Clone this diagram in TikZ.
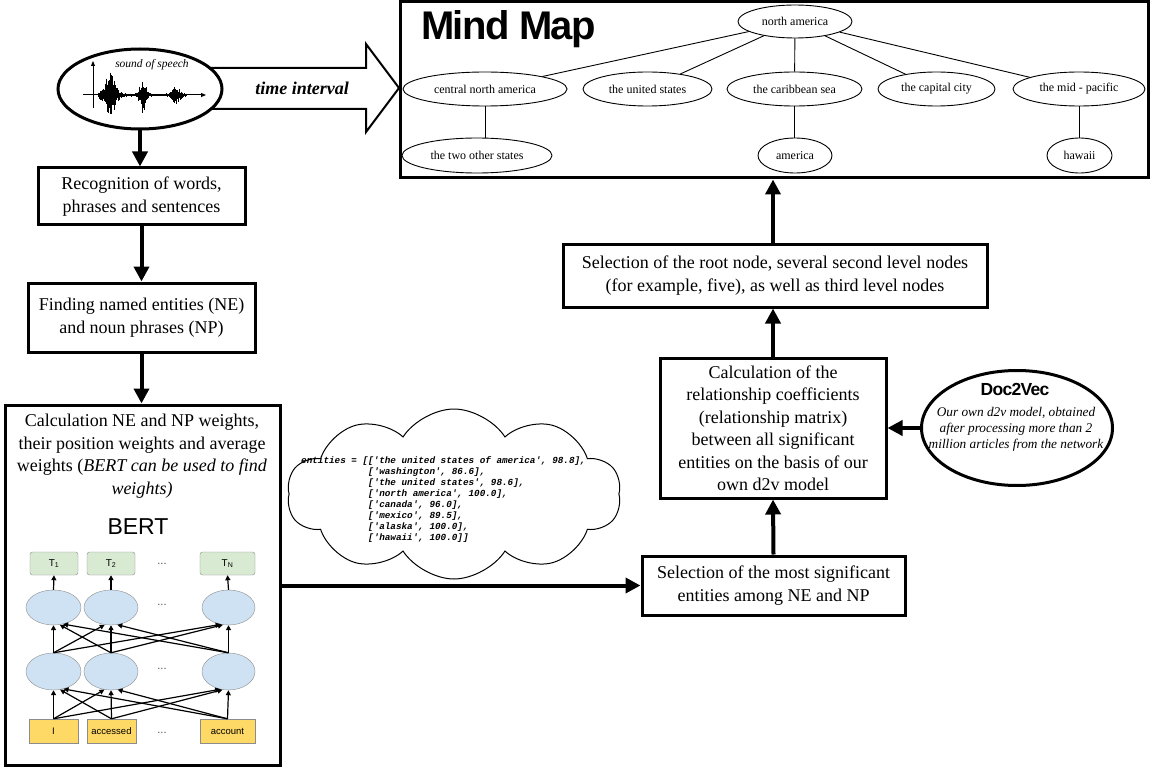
\documentclass[tikz,border=0pt]{standalone}
\usepackage{fontspec}
\setmainfont{Liberation Serif}
\setsansfont{Liberation Sans}
\setmonofont{Liberation Mono}
\newfontfamily\tightsans[LetterSpace=-4]{Liberation Sans}
\usetikzlibrary{arrows.meta,shapes.geometric,shapes.symbols}
\definecolor{tgreen}{HTML}{D9EAD3}
\definecolor{hblue}{HTML}{CFE2F3}
\definecolor{iyellow}{HTML}{FFD966}
\definecolor{bgrey}{HTML}{8C8C8C}
\begin{document}
\begin{tikzpicture}[x=1pt,y=-1pt,
  flowbox/.style={draw, line width=3pt, rectangle, align=center, inner sep=0pt, font=\fontsize{18}{22.5}\selectfont},
  flowarrow/.style={line width=4pt, -{Triangle[length=15pt,width=15pt]}},
  mmnode/.style={draw, ellipse, line width=0.9pt, inner sep=0pt, font=\fontsize{12}{14}\selectfont},
  mmedge/.style={line width=0.9pt},
  tbox/.style={draw=bgrey, fill=tgreen, rounded corners=2.5pt, minimum height=23pt, inner sep=0pt, font=\sffamily\fontsize{10}{12}\selectfont},
  hnode/.style={draw=bgrey, fill=hblue, ellipse, inner sep=0pt},
  ibox/.style={draw=bgrey, fill=iyellow, minimum height=24pt, inner sep=0pt, font=\sffamily\fontsize{9.5}{11}\selectfont},
  barrow/.style={line width=1.2pt, -{Triangle[length=5pt,width=5pt]}},
  dotsnode/.style={font=\sffamily\fontsize{11}{12}\selectfont, text=black!70, inner sep=0pt},
]
\useasboundingbox (0,0) rectangle (1151,770);
\fill[white] (0,0) rectangle (1151,770);

% big outlined arrow
\draw[line width=2pt, fill=white, line join=miter] (205,68) -- (366,68) -- (366,44) -- (399,88) -- (366,132) -- (366,109) -- (205,109) -- cycle;
\node[font=\bfseries\itshape\fontsize{18}{22}\selectfont] (ti) at (302,88) {time interval};

% sound ellipse
\node[draw, ellipse, line width=3pt, fill=white, minimum width=164pt, minimum height=80pt] (sound) at (140,89) {};
\node[font=\itshape\fontsize{11.5}{13}\selectfont, inner sep=0pt] (sos) at (152,65) {sound of speech};
\pgfmathsetseed{7}
\foreach \i in {0,...,110} {
  \pgfmathsetmacro{\xx}{98+0.8*\i}
  \pgfmathsetmacro{\env}{21*exp(max(-9,-((\xx-110)/7)^2))+17*exp(max(-9,-((\xx-143)/4)^2))+8*exp(max(-9,-((\xx-176)/5)^2))+1.5}
  \pgfmathsetmacro{\aa}{\env*(0.35+0.65*rnd)}
  \pgfmathsetmacro{\bb}{\env*(0.35+0.65*rnd)}
  \draw[line width=0.7pt] (\xx,95-\aa) -- (\xx,95+\bb);
}
\draw[line width=1pt,-{Triangle[length=5pt,width=4pt]}] (93,108) -- (93,61);
\draw[line width=1pt,-{Triangle[length=5pt,width=4pt]}] (83,95) -- (206,95);

% mind map
\node[draw, line width=3pt, minimum width=748pt, minimum height=176pt, inner sep=0pt] (mm) at (774,90) {};
\node[font=\tightsans\bfseries\fontsize{40}{42}\selectfont, anchor=base west, inner sep=0pt] (mmtitle) at (421,40) {Mind Map};
\node[mmnode, minimum width=114pt, minimum height=33pt] (na) at (795,21.5) {north america};
\node[mmnode, minimum width=164pt, minimum height=34pt] (cna) at (485,89) {central north america};
\node[mmnode, minimum width=129pt, minimum height=34pt] (tus) at (647.5,89) {the united states};
\node[mmnode, minimum width=135pt, minimum height=34pt] (tcs) at (794.5,89) {the caribbean sea};
\node[mmnode, minimum width=117pt, minimum height=34pt] (tcc) at (936.5,89) {the capital city};
\node[mmnode, minimum width=132pt, minimum height=34pt] (tmp) at (1079,89) {the mid - pacific};
\node[mmnode, minimum width=150pt, minimum height=35pt] (tos) at (477,155.5) {the two other states};
\node[mmnode, minimum width=74pt, minimum height=35pt] (am) at (795,155.5) {america};
\node[mmnode, minimum width=65pt, minimum height=35pt] (hw) at (1079.5,155.5) {hawaii};
\draw[mmedge] (na) -- (cna);
\draw[mmedge] (na) -- (tus);
\draw[mmedge] (na) -- (tcs);
\draw[mmedge] (na) -- (tcc);
\draw[mmedge] (na) -- (tmp);
\draw[mmedge] (cna.south) -- (cna.south |- tos.north);
\draw[mmedge] (tcs.south) -- (tcs.south |- am.north);
\draw[mmedge] (tmp.south) -- (tmp.south |- hw.north);

% left flow
\node[flowbox, minimum width=207pt, minimum height=57pt] (rec) at (141.5,196.5) {Recognition of words,\\phrases and sentences};
\node[flowbox, minimum width=227pt, minimum height=69pt] (find) at (141.5,317.5) {Finding named entities (NE)\\and noun phrases (NP)};
\node[flowbox, minimum width=275pt, minimum height=360pt] (calc) at (142.5,585) {};
\node[align=center, font=\fontsize{18}{22.5}\selectfont, inner sep=0pt] (calctext) at (142,456) {Calculation NE and NP weights,\\their position weights and average\\weights (\textit{BERT can be used to find}\\\textit{weights)}};
\node[font=\sffamily\fontsize{23}{26}\selectfont, inner sep=0pt] (bert) at (138,527) {BERT};

\draw[flowarrow] (sound.south) -- (sound.south |- rec.north);
\draw[flowarrow] (rec.south) -- (find.north);
\draw[flowarrow] (find.south) -- (find.south |- calc.north);

% BERT diagram
\node[tbox, minimum width=48pt] (t1) at (54,563.5) {T\textsubscript{1}};
\node[tbox, minimum width=48pt] (t2) at (111,563.5) {T\textsubscript{2}};
\node[tbox, minimum width=55pt] (tn) at (227.5,563.5) {T\textsubscript{N}};
\node[hnode, minimum width=55pt, minimum height=35pt] (u1) at (53.5,607.5) {};
\node[hnode, minimum width=54pt, minimum height=35pt] (u2) at (111,607.5) {};
\node[hnode, minimum width=53pt, minimum height=35pt] (un) at (228.5,607.5) {};
\node[hnode, minimum width=55pt, minimum height=37pt] (l1) at (53.5,671.5) {};
\node[hnode, minimum width=54pt, minimum height=37pt] (l2) at (111,671.5) {};
\node[hnode, minimum width=53pt, minimum height=37pt] (ln) at (228.5,671.5) {};
\node[ibox, minimum width=49pt] (i1) at (53.5,731) {I};
\node[ibox, minimum width=49pt] (i2) at (111.5,731) {accessed};
\node[ibox, minimum width=55pt] (in) at (227.5,731) {account};
\node[dotsnode] (d1) at (162,564) {...};
\node[dotsnode] (d2) at (162,605) {...};
\node[dotsnode] (d3) at (162,669) {...};
\node[dotsnode] (d4) at (162,733) {...};
\foreach \s/\t/\a in {i1/l1/270, i2/l1/290, in/l1/300, i1/l2/250, i2/l2/270, in/l2/290, i1/ln/245, i2/ln/252, in/ln/270}
  \draw[barrow] (\s.north) -- (\t.\a);
\foreach \s/\t/\a in {l1/u1/270, l2/u1/290, ln/u1/300, l1/u2/250, l2/u2/270, ln/u2/290, l1/un/245, l2/un/252, ln/un/270}
  \draw[barrow] (\s.north) -- (\t.\a);
\draw[barrow] (u1.north) -- (t1.south);
\draw[barrow] (u2.north) -- (t2.south);
\draw[barrow] (un.north) -- (tn.south);

% cloud
\node[draw, cloud, cloud puffs=10, cloud puff arc=115, cloud ignores aspect, minimum width=334pt, minimum height=170pt, line width=1pt, fill=white] (cloud) at (454,494) {};
\node[anchor=north west, align=left, inner sep=0pt, font=\ttfamily\bfseries\itshape\fontsize{9.3}{11}\selectfont] (code) at (301,456) {entities = [['the united states of america', 98.8],\\
\phantom{entities = [}['washington', 86.6],\\
\phantom{entities = [}['the united states', 98.6],\\
\phantom{entities = [}['north america', 100.0],\\
\phantom{entities = [}['canada', 96.0],\\
\phantom{entities = [}['mexico', 89.5],\\
\phantom{entities = [}['alaska', 100.0],\\
\phantom{entities = [}['hawaii', 100.0]]};

% right flow
\node[flowbox, minimum width=263pt, minimum height=59pt] (sel) at (773.5,585.5) {Selection of the most significant\\entities among NE and NP};
\node[flowbox, minimum width=226pt, minimum height=140pt] (rel) at (773,428) {Calculation of the\\relationship coefficients\\(relationship matrix)\\between all significant\\entities on the basis of our\\own d2v model};
\node[flowbox, minimum width=424pt, minimum height=63pt] (root) at (775,275.5) {Selection of the root node, several second level nodes\\(for example, five), as well as third level nodes};

\node[draw, ellipse, line width=3pt, minimum width=191pt, minimum height=115pt, inner sep=0pt] (doc) at (1017,428) {};
\node[font=\tightsans\bfseries\fontsize{17.5}{19}\selectfont, inner sep=0pt] (doctitle) at (1015,389) {Doc2Vec};
\node[align=center, font=\itshape\fontsize{13.3}{16}\selectfont, inner sep=0pt] (doctext) at (1016,429) {Our own d2v model, obtained\\after processing more than 2\\million articles from the network};

\draw[flowarrow] (calc.east |- sel.west) -- (sel.west);
\draw[flowarrow] (sel.north) -- (rel.south);
\draw[flowarrow] (doc.west) -- (rel.east |- doc.west);
\draw[flowarrow] (rel.north) -- (rel.north |- root.south);
\draw[flowarrow] (rel.north |- root.north) -- (rel.north |- mm.south);
\end{tikzpicture}
\end{document}
